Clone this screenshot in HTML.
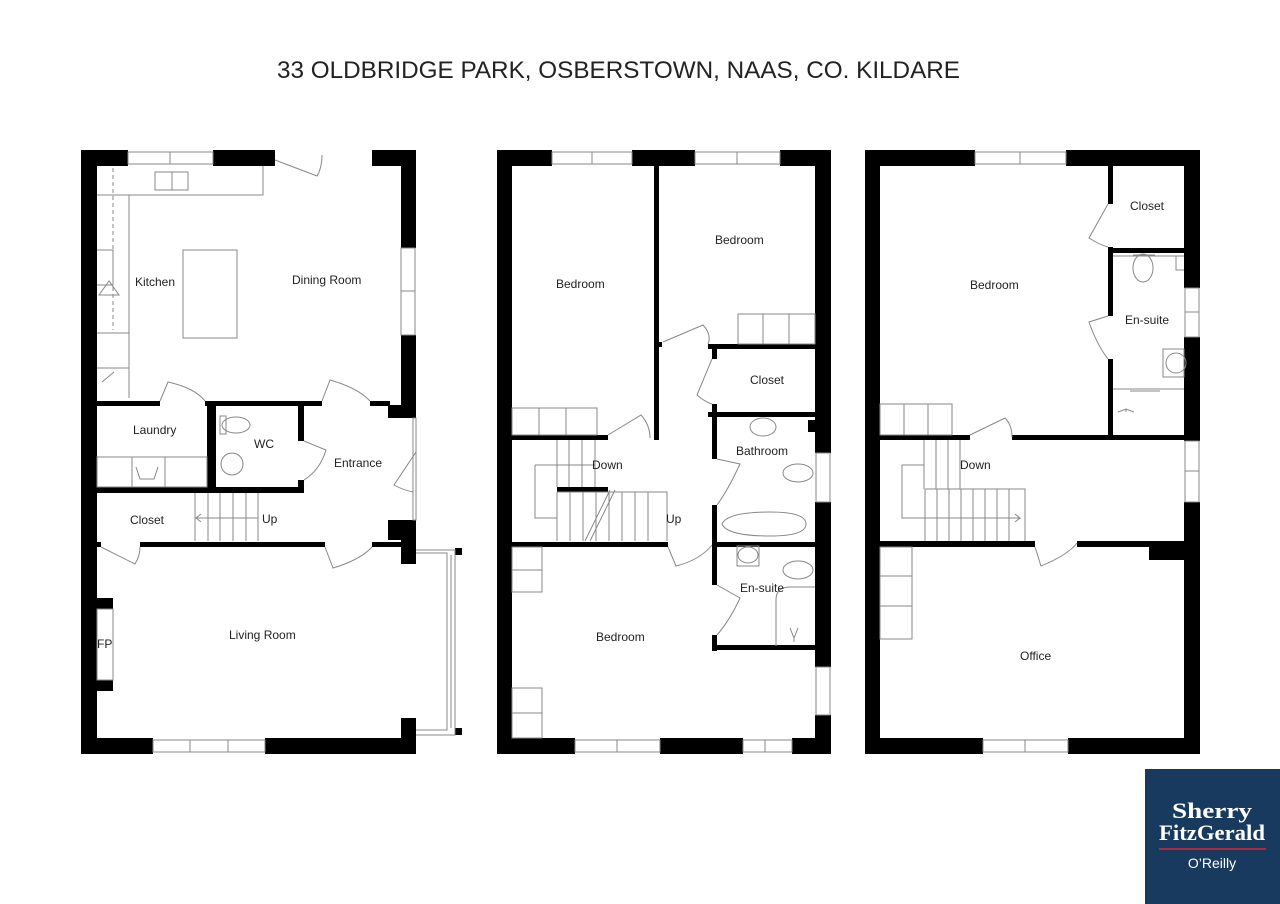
<!DOCTYPE html>
<html><head><meta charset="utf-8"><style>
html,body{margin:0;padding:0;background:#fff;}
svg{display:block;}
text{font-family:"Liberation Sans",Arial,sans-serif;fill:#222;}
</style></head><body>
<svg width="1280" height="904" viewBox="0 0 1280 904" xmlns="http://www.w3.org/2000/svg">
<rect width="1280" height="904" fill="#fff"/>
<text x="277" y="78" font-size="24" textLength="683" lengthAdjust="spacingAndGlyphs">33 OLDBRIDGE PARK, OSBERSTOWN, NAAS, CO. KILDARE</text>

<!-- ============ PLAN 1 ============ -->
<g fill="#000">
  <rect x="81" y="150" width="16" height="604"/>
  <rect x="81" y="150" width="47" height="16"/>
  <rect x="213" y="150" width="62" height="16"/>
  <rect x="372" y="150" width="44" height="16"/>
  <rect x="401" y="150" width="15" height="98"/>
  <rect x="401" y="335" width="15" height="83"/>
  <rect x="388" y="405" width="28" height="13"/>
  <rect x="388" y="520" width="28" height="20"/>
  <rect x="401" y="540" width="15" height="24"/>
  <rect x="401" y="718" width="15" height="36"/>
  <rect x="81" y="738" width="72" height="16"/>
  <rect x="265" y="738" width="151" height="16"/>
  <rect x="455" y="548" width="7" height="7"/>
  <rect x="455" y="728" width="7" height="7"/>
  <!-- interior -->
  <rect x="97" y="401" width="63" height="5"/>
  <rect x="205" y="401" width="117" height="5"/>
  <rect x="370" y="401" width="20" height="5"/>
  <rect x="207" y="401" width="9" height="92"/>
  <rect x="298" y="401" width="6" height="40"/>
  <rect x="298" y="480" width="6" height="13"/>
  <rect x="97" y="487" width="207" height="6"/>
  <rect x="140" y="542" width="185" height="5"/>
  <rect x="372" y="542" width="30" height="5"/>
  <rect x="97" y="542" width="4" height="5"/>
  <rect x="97" y="598" width="16" height="11"/>
  <rect x="97" y="680" width="16" height="11"/>
</g>
<g fill="none" stroke="#888" stroke-width="1">
  <rect x="128" y="152" width="85" height="12"/><line x1="170" y1="152" x2="170" y2="164"/>
  <rect x="401" y="248" width="14" height="87"/><line x1="401" y1="291" x2="415" y2="291"/>
  <rect x="413" y="418" width="3" height="102"/>
  <rect x="153" y="740" width="112" height="12"/><line x1="190" y1="740" x2="190" y2="752"/><line x1="228" y1="740" x2="228" y2="752"/>
  <path d="M416 550 H455 V735 H416 M416 553 H447 V730 H416"/>
  <line x1="451" y1="555" x2="451" y2="728"/>
  <!-- counters -->
  <path d="M97 195 H129 V398 M129 195 H263 V166"/>
  <line x1="113" y1="168" x2="113" y2="330" stroke-dasharray="4 3"/>
  <rect x="155" y="172" width="33" height="18"/>
  <line x1="172" y1="172" x2="172" y2="190"/>
  <rect x="183" y="250" width="54" height="88"/>
  <path d="M97 250 H113 V285 H97"/>
  <path d="M97 333 H129 M97 368 H129"/>
  <rect x="97" y="457" width="110" height="30"/>
  <line x1="132" y1="457" x2="132" y2="487"/><line x1="165" y1="457" x2="165" y2="487"/>
  <path d="M136 467 l4 12 h14 l4 -12"/>
  <rect x="97" y="609" width="16" height="71"/>
  <!-- stairs -->
  <path d="M195 493 V541 M208 493 V541 M220 493 V541 M233 493 V541 M246 493 V541 M258 493 V541"/>
  <path d="M258 518 H196 l5 -4 M196 518 l5 4"/>
  <!-- doors -->
  <path d="M275 160 L317 176 Q322 168 322 155"/>
  <path d="M160 401 L168 382 Q195 388 205 401"/>
  <path d="M322 401 L330 380 Q358 388 370 401"/>
  <path d="M304 441 L326 450 Q320 470 304 480"/>
  <path d="M416 452 L394 485 Q403 490 413 492"/>
  <path d="M101 547 L135 564 Q140 556 140 547"/>
  <path d="M325 547 L333 568 Q360 560 372 547"/>
  <!-- WC fixtures -->
  <ellipse cx="236" cy="425" rx="14" ry="8"/>
  <rect x="220" y="416" width="6" height="18"/>
  <circle cx="232" cy="464" r="11"/>
  <path d="M99 295 l10 -14 l10 14 z"/>
  <path d="M102 382 l12 -10 M104 374 v0"/>
</g>
<text x="135" y="286" font-size="12">Kitchen</text>
<text x="292" y="284" font-size="12">Dining Room</text>
<text x="133" y="434" font-size="12">Laundry</text>
<text x="254" y="448" font-size="12">WC</text>
<text x="334" y="467" font-size="12">Entrance</text>
<text x="130" y="524" font-size="12">Closet</text>
<text x="262" y="523" font-size="12">Up</text>
<text x="229" y="639" font-size="12">Living Room</text>
<text x="97" y="648" font-size="12">FP</text>

<!-- ============ PLAN 2 ============ -->
<g fill="#000">
  <rect x="497" y="150" width="15" height="604"/>
  <rect x="497" y="150" width="55" height="16"/>
  <rect x="632" y="150" width="63" height="16"/>
  <rect x="780" y="150" width="51" height="16"/>
  <rect x="815" y="150" width="16" height="303"/>
  <rect x="808" y="420" width="8" height="12"/>
  <rect x="815" y="502" width="16" height="165"/>
  <rect x="815" y="715" width="16" height="39"/>
  <rect x="497" y="738" width="78" height="16"/>
  <rect x="660" y="738" width="83" height="16"/>
  <rect x="792" y="738" width="39" height="16"/>
  <!-- interior -->
  <rect x="654" y="166" width="5" height="274"/>
  <rect x="512" y="435" width="96" height="5"/>
  <rect x="654" y="342" width="8" height="5"/>
  <rect x="708" y="344" width="107" height="5"/>
  <rect x="712" y="344" width="5" height="15"/>
  <rect x="712" y="404" width="5" height="55"/>
  <rect x="708" y="412" width="107" height="5"/>
  <rect x="712" y="505" width="5" height="42"/>
  <rect x="512" y="542" width="156" height="5"/>
  <rect x="712" y="542" width="103" height="5"/>
  <rect x="712" y="542" width="5" height="43"/>
  <rect x="712" y="635" width="5" height="16"/>
  <rect x="712" y="645" width="103" height="5"/>
  <rect x="557" y="487" width="51" height="5"/>
</g>
<g fill="none" stroke="#888" stroke-width="1">
  <rect x="552" y="152" width="80" height="12"/><line x1="592" y1="152" x2="592" y2="164"/>
  <rect x="695" y="152" width="85" height="12"/><line x1="737" y1="152" x2="737" y2="164"/>
  <rect x="816" y="453" width="14" height="49"/>
  <rect x="816" y="667" width="14" height="48"/>
  <rect x="575" y="740" width="85" height="12"/><line x1="617" y1="740" x2="617" y2="752"/>
  <rect x="743" y="740" width="49" height="12"/><line x1="765" y1="740" x2="765" y2="752"/>
  <rect x="738" y="314" width="77" height="30"/>
  <line x1="763" y1="314" x2="763" y2="344"/><line x1="789" y1="314" x2="789" y2="344"/>
  <rect x="512" y="408" width="85" height="27"/>
  <line x1="539" y1="408" x2="539" y2="435"/><line x1="566" y1="408" x2="566" y2="435"/>
  <rect x="512" y="547" width="30" height="45"/><line x1="512" y1="570" x2="542" y2="570"/>
  <rect x="512" y="688" width="30" height="50"/><line x1="512" y1="713" x2="542" y2="713"/>
  <!-- stairs -->
  <path d="M557 440 V487 M569 440 V487 M582 440 V487 M595 440 V487 M557 465 H595"/>
  <path d="M535 465 H557 M535 465 V518 H557"/>
  <path d="M557 492 H667 V541 M557 492 V541"/>
  <path d="M570 492 V541 M583 492 V541 M596 492 V541 M609 492 V541 M622 492 V541 M635 492 V541 M648 492 V541"/>
  <path d="M585 541 L610 490 M590 541 L615 490"/>
  <!-- doors -->
  <path d="M608 435 L641 415 Q650 425 650 438"/>
  <path d="M663 342 L703 325 Q712 335 708 344"/>
  <path d="M712 359 L697 395 Q705 402 712 404"/>
  <path d="M717 459 L740 464 Q728 490 717 505"/>
  <path d="M668 547 L676 566 Q700 560 712 545"/>
  <path d="M717 585 L740 598 Q730 620 717 635"/>
  <!-- fixtures -->
  <ellipse cx="763" cy="427" rx="13" ry="9"/>
  <ellipse cx="798" cy="473" rx="15" ry="9"/>
  <path d="M722 524 Q727 512 770 512 Q806 512 806 524 Q806 536 770 536 Q727 536 722 524 Z"/>
  <rect x="737" y="546" width="22" height="20"/><ellipse cx="748" cy="555" rx="10" ry="8"/>
  <ellipse cx="798" cy="570" rx="15" ry="9"/>
  <path d="M776 646 V600 Q776 587 790 587 H815"/>
  <path d="M790 628 l4 10 l4 -10 M794 638 v4"/>
</g>
<text x="556" y="288" font-size="12">Bedroom</text>
<text x="715" y="244" font-size="12">Bedroom</text>
<text x="750" y="384" font-size="12">Closet</text>
<text x="736" y="455" font-size="12">Bathroom</text>
<text x="592" y="469" font-size="12">Down</text>
<text x="666" y="523" font-size="12">Up</text>
<text x="740" y="592" font-size="12">En-suite</text>
<text x="596" y="641" font-size="12">Bedroom</text>

<!-- ============ PLAN 3 ============ -->
<g fill="#000">
  <rect x="865" y="150" width="15" height="604"/>
  <rect x="865" y="150" width="110" height="16"/>
  <rect x="1066" y="150" width="134" height="16"/>
  <rect x="1184" y="150" width="16" height="138"/>
  <rect x="1184" y="337" width="16" height="104"/>
  <rect x="1184" y="502" width="16" height="252"/>
  <rect x="865" y="738" width="118" height="16"/>
  <rect x="1068" y="738" width="132" height="16"/>
  <!-- interior -->
  <rect x="1108" y="166" width="5" height="38"/>
  <rect x="1108" y="247" width="5" height="69"/>
  <rect x="1108" y="359" width="5" height="79"/>
  <rect x="1113" y="248" width="71" height="5"/>
  <rect x="880" y="435" width="90" height="5"/>
  <rect x="1012" y="435" width="172" height="5"/>
  <rect x="880" y="541" width="155" height="6"/>
  <rect x="1077" y="541" width="107" height="6"/>
  <rect x="1149" y="541" width="35" height="19"/>
</g>
<g fill="none" stroke="#888" stroke-width="1">
  <rect x="975" y="152" width="91" height="12"/><line x1="1020" y1="152" x2="1020" y2="164"/>
  <rect x="1185" y="288" width="14" height="49"/><line x1="1185" y1="312" x2="1199" y2="312"/>
  <rect x="1185" y="441" width="14" height="61"/><line x1="1185" y1="471" x2="1199" y2="471"/>
  <rect x="983" y="740" width="85" height="12"/><line x1="1025" y1="740" x2="1025" y2="752"/>
  <rect x="880" y="404" width="72" height="31"/>
  <line x1="904" y1="404" x2="904" y2="435"/><line x1="928" y1="404" x2="928" y2="435"/>
  <rect x="880" y="547" width="32" height="92"/>
  <line x1="880" y1="576" x2="912" y2="576"/><line x1="880" y1="606" x2="912" y2="606"/>
  <!-- stairs -->
  <path d="M924 440 V489 M936 440 V489 M948 440 V489 M960 440 V489"/>
  <path d="M902 465 H924 M902 465 V518 H925"/>
  <path d="M925 489 H1025 V541 M925 489 V541"/>
  <path d="M937 489 V541 M949 489 V541 M961 489 V541 M973 489 V541 M985 489 V541 M997 489 V541 M1009 489 V541"/>
  <path d="M925 518 H1020 l-5 -4 M1020 518 l-5 4"/>
  <!-- doors -->
  <path d="M970 435 L1005 418 Q1012 425 1012 437"/>
  <path d="M1108 204 L1089 238 Q1100 245 1108 247"/>
  <path d="M1108 316 L1089 322 Q1097 345 1108 359"/>
  <path d="M1035 547 L1041 566 Q1068 555 1077 543"/>
  <!-- fixtures -->
  <ellipse cx="1143" cy="268" rx="10" ry="14"/>
  <path d="M1133 255 H1155 M1113 256 H1184 M1176 256 V270 H1184"/>
  <rect x="1163" y="349" width="21" height="28"/><circle cx="1176" cy="363" r="10"/>
  <line x1="1113" y1="389" x2="1184" y2="389"/>
  <line x1="1130" y1="391" x2="1160" y2="391"/>
  <path d="M1118 412 l8 -3 l8 3 M1126 409 v3"/>
</g>
<text x="1130" y="210" font-size="12">Closet</text>
<text x="970" y="289" font-size="12">Bedroom</text>
<text x="1125" y="324" font-size="12">En-suite</text>
<text x="960" y="469" font-size="12">Down</text>
<text x="1020" y="660" font-size="12">Office</text>

<!-- ============ LOGO ============ -->
<rect x="1145" y="769" width="135" height="135" fill="#183a5e"/>
<text x="1212" y="818" font-size="22" font-weight="bold" text-anchor="middle" style="fill:#fff;font-family:'Liberation Serif',serif" textLength="80" lengthAdjust="spacingAndGlyphs">Sherry</text>
<text x="1212" y="840" font-size="22" font-weight="bold" text-anchor="middle" style="fill:#fff;font-family:'Liberation Serif',serif" textLength="106" lengthAdjust="spacingAndGlyphs">FitzGerald</text>
<rect x="1159" y="848" width="107" height="2" fill="#b02a3e"/>
<text x="1212" y="868" font-size="14" text-anchor="middle" style="fill:#fff">O’Reilly</text>
</svg>
</body></html>
